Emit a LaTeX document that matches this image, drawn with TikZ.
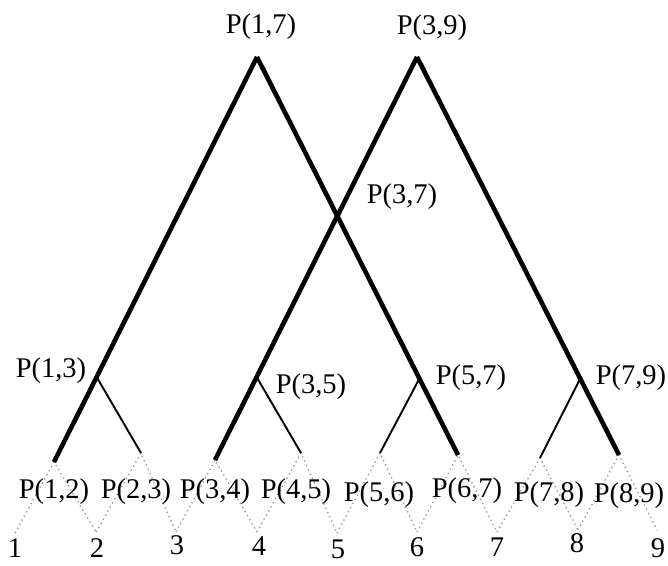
\documentclass[tikz,border=0pt]{standalone}
\usepackage{fontspec}
\setmainfont{Liberation Serif}
\usetikzlibrary{calc}
\begin{document}
\begin{tikzpicture}[x=1pt,y=-1pt,
  lbl/.style={font=\fontsize{28.5}{33}\selectfont, inner sep=0pt, anchor=center},
  heavy/.style={line width=4.6pt},
  light/.style={line width=1.9pt},
  dots/.style={black!40, line width=1.4pt, dash pattern=on 1.3pt off 3.4pt}]
\useasboundingbox (0,0) rectangle (668,565);
% apex points
\coordinate (t17) at (257,57);
\coordinate (t39) at (417,57);
\coordinate (a12) at (54,462);
\coordinate (a23) at (141,453);
\coordinate (a34) at (215,460);
\coordinate (a45) at (301,453);
\coordinate (a56) at (380,453);
\coordinate (a67) at (458,455);
\coordinate (a78) at (540,458);
\coordinate (a89) at (619,455);
% leaves
\coordinate (l1) at (15,533);
\coordinate (l2) at (96,532);
\coordinate (l3) at (176,532);
\coordinate (l4) at (257,532);
\coordinate (l5) at (337,533);
\coordinate (l6) at (417,532);
\coordinate (l7) at (497,532);
\coordinate (l8) at (578,530);
\coordinate (l9) at (657,530);
% dotted base triangles
\foreach \p/\a/\b in {a12/l1/l2, a23/l2/l3, a34/l3/l4, a45/l4/l5, a56/l5/l6, a67/l6/l7, a78/l7/l8, a89/l8/l9}{
  \draw[dots] (\a) -- (\p) -- (\b);
}
% thick legs
\draw[heavy] (t17) -- (a12);
\draw[heavy] (t17) -- (a67);
\draw[heavy] (t39) -- (a34);
\draw[heavy] (t39) -- (a89);
% junctions on thick legs
\coordinate (j13) at ($(t17)!0.79!(a12)$);
\coordinate (j35) at ($(t39)!0.794!(a34)$);
\coordinate (j57) at ($(t17)!0.808!(a67)$);
\coordinate (j79) at ($(t39)!0.808!(a89)$);
% thin legs
\draw[light] (j13) -- (a23);
\draw[light] (j35) -- (a45);
\draw[light] (j57) -- (a56);
\draw[light] (j79) -- (a78);
% labels
\node[lbl] (n17) at (261,27) {P(1,7)};
\node[lbl] (n39) at (432,28) {P(3,9)};
\node[lbl] (n37) at (402,197) {P(3,7)};
\node[lbl] (n13) at (51,371) {P(1,3)};
\node[lbl] (n35) at (311,387) {P(3,5)};
\node[lbl] (n57) at (471,378) {P(5,7)};
\node[lbl] (n79) at (631,378) {P(7,9)};
\node[lbl] (n12) at (54,492) {P(1,2)};
\node[lbl] (n23) at (136,492) {P(2,3)};
\node[lbl] (n34) at (215,492) {P(3,4)};
\node[lbl] (n45) at (296,492) {P(4,5)};
\node[lbl] (n56) at (379,495) {P(5,6)};
\node[lbl] (n67) at (467,491) {P(6,7)};
\node[lbl] (n78) at (549,495) {P(7,8)};
\node[lbl] (n89) at (629,496) {P(8,9)};
\node[lbl] (d1) at (15,548) {1};
\node[lbl] (d2) at (97,548) {2};
\node[lbl] (d3) at (177,545) {3};
\node[lbl] (d4) at (259,546) {4};
\node[lbl] (d5) at (338,549) {5};
\node[lbl] (d6) at (417,547) {6};
\node[lbl] (d7) at (497,547) {7};
\node[lbl] (d8) at (577,543) {8};
\node[lbl] (d9) at (658,548) {9};
\end{tikzpicture}
\end{document}
